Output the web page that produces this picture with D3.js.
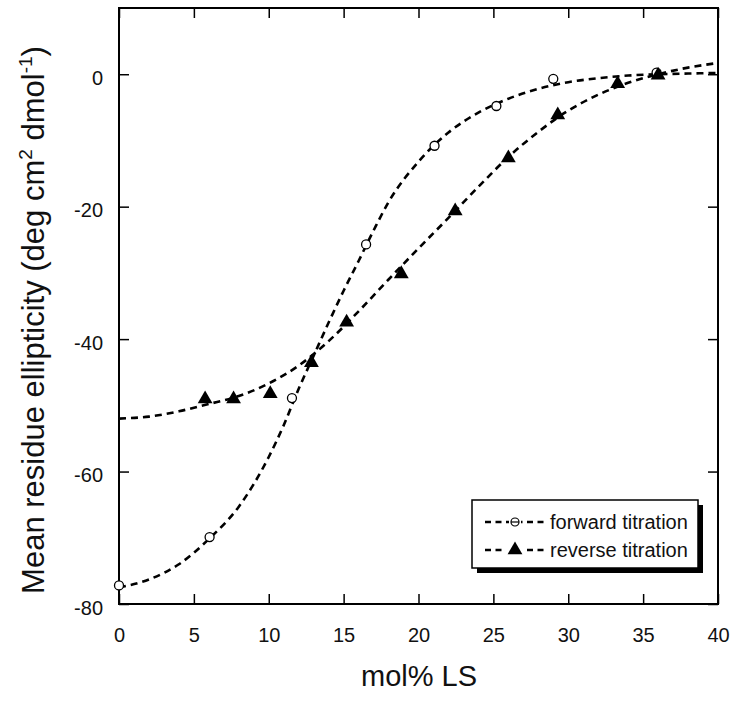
<!DOCTYPE html>
<html>
<head>
<meta charset="utf-8">
<script src="https://cdn.jsdelivr.net/npm/d3@7"></script>
<style>
body { margin: 0; background: #fff; }
svg { display: block; font-family: "Liberation Sans", Arial, sans-serif; }
</style>
</head>
<body>
<svg id="chart" width="732" height="701"></svg>
<script>
// Data
const forwardX = [0, 6.05, 11.55, 16.5, 21.07, 25.2, 29.0, 35.9];
const forwardY = [-77.2, -69.9, -48.9, -25.7, -10.8, -4.8, -0.7, 0.25];
const reverseX = [5.75, 7.65, 10.1, 12.85, 15.2, 18.85, 22.45, 26.0, 29.3, 33.3, 36.0];
const reverseY = [-48.9, -48.9, -48.1, -43.4, -37.3, -30.0, -20.5, -12.5, -6.0, -1.3, 0.0];
// fitted curves
const forwardFitX = [0, 2, 4, 6, 8, 10, 11, 12, 13, 14, 15, 16, 17, 18, 20, 22, 24, 26, 28, 30, 32, 34, 36, 38, 40];
const forwardFitY = [-77.5, -76.3, -74, -70.2, -65.3, -57.8, -53, -47.5, -42.5, -37.5, -32.7, -28.2, -23.6, -19.3, -13.2, -8.8, -5.8, -3.7, -2.2, -1.2, -0.6, -0.2, 0, 0.1, 0.2];
const reverseFitX = [0, 2, 4, 6, 8, 10, 12, 14, 16, 18, 20, 22, 24, 26, 28, 30, 32, 34, 36, 38, 40];
const reverseFitY = [-52, -51.7, -50.9, -49.8, -48.6, -46.7, -44, -40.3, -35.8, -31, -26.3, -21.7, -17, -12.5, -8.7, -5.5, -3.1, -1.3, 0, 1, 1.7];
const xTicks = [0, 5, 10, 15, 20, 25, 30, 35, 40];
const yTicks = [-80, -60, -40, -20, 0];
const legendLabels = ["forward titration", "reverse titration"];

const svg = d3.select("#chart");
const pL = 119, pR = 718, pT = 8, pB = 604;
const x = d3.scaleLinear().domain([0, 40]).range([pL, pR]);
const y = d3.scaleLinear().domain([-80, 10]).range([pB, pT]);
const fmt = d => String(d);

// clip
svg.append("clipPath").attr("id", "clip").append("rect")
  .attr("x", pL).attr("y", pT).attr("width", pR - pL).attr("height", pB - pT);

// axes
const tickLen = 10;
const gx = svg.append("g").attr("transform", `translate(0,${pB})`)
  .call(d3.axisBottom(x).tickValues(xTicks).tickFormat(fmt).tickSizeInner(-tickLen).tickSizeOuter(0).tickPadding(24));
const gxt = svg.append("g").attr("transform", `translate(0,${pT})`)
  .call(d3.axisTop(x).tickValues(xTicks).tickSizeInner(-tickLen).tickSizeOuter(0).tickFormat(""));
const gy = svg.append("g").attr("transform", `translate(${pL},0)`)
  .call(d3.axisLeft(y).tickValues(yTicks).tickFormat(fmt).tickSizeInner(-tickLen).tickSizeOuter(0).tickPadding(16));
const gyr = svg.append("g").attr("transform", `translate(${pR},0)`)
  .call(d3.axisRight(y).tickValues(yTicks).tickSizeInner(-tickLen).tickSizeOuter(0).tickFormat(""));
[gx, gxt, gy, gyr].forEach(g => {
  g.select(".domain").remove();
  g.selectAll(".tick line").attr("stroke", "#000").attr("stroke-width", 1.5);
  g.selectAll(".tick text").attr("font-size", 20).attr("fill", "#111")
    .attr("font-family", "'Liberation Sans', Arial, sans-serif");
});
gy.selectAll(".tick text").attr("dy", "0.5em");

// frame
svg.append("rect").attr("x", pL).attr("y", pT).attr("width", pR - pL).attr("height", pB - pT)
  .attr("fill", "none").attr("stroke", "#000").attr("stroke-width", 2);

// curves
const line = d3.line().x(d => x(d[0])).y(d => y(d[1])).curve(d3.curveMonotoneX);
const plot = svg.append("g").attr("clip-path", "url(#clip)");
plot.append("path").datum(d3.zip(forwardFitX, forwardFitY)).attr("d", line)
  .attr("fill", "none").attr("stroke", "#000").attr("stroke-width", 2.6).attr("stroke-dasharray", "7,5");
plot.append("path").datum(d3.zip(reverseFitX, reverseFitY)).attr("d", line)
  .attr("fill", "none").attr("stroke", "#000").attr("stroke-width", 2.6).attr("stroke-dasharray", "7,5");

// markers
const tri = d3.symbol().type(d3.symbolTriangle).size(95);
svg.append("g").selectAll("circle").data(d3.zip(forwardX, forwardY)).join("circle")
  .attr("cx", d => x(d[0])).attr("cy", d => y(d[1])).attr("r", 4.5)
  .attr("fill", "#fff").attr("stroke", "#000").attr("stroke-width", 1.3);
svg.append("g").selectAll("path").data(d3.zip(reverseX, reverseY)).join("path")
  .attr("d", tri).attr("transform", d => `translate(${x(d[0])},${y(d[1]) + 1})`).attr("fill", "#000");

// legend
const lg = svg.append("g");
lg.append("rect").attr("x", 477).attr("y", 505).attr("width", 226).attr("height", 68).attr("fill", "#000");
lg.append("rect").attr("x", 472).attr("y", 500).attr("width", 226).attr("height", 68)
  .attr("fill", "#fff").attr("stroke", "#000").attr("stroke-width", 1.5);
legendLabels.forEach((lab, i) => {
  const ly = 522 + i * 28;
  lg.append("line").attr("x1", 485).attr("x2", 546).attr("y1", ly).attr("y2", ly)
    .attr("stroke", "#000").attr("stroke-width", 2.4).attr("stroke-dasharray", "6,4.5");
  if (i === 0) {
    lg.append("rect").attr("x", 509).attr("y", ly - 5).attr("width", 12).attr("height", 10).attr("fill", "#fff");
    lg.append("circle").attr("cx", 515).attr("cy", ly).attr("r", 4).attr("fill", "#fff")
      .attr("stroke", "#000").attr("stroke-width", 1.2);
    lg.append("line").attr("x1", 511).attr("x2", 519).attr("y1", ly).attr("y2", ly).attr("stroke", "#000").attr("stroke-width", 1.2);
  } else {
    lg.append("rect").attr("x", 506).attr("y", ly - 5).attr("width", 18).attr("height", 10).attr("fill", "#fff");
    lg.append("path").attr("d", tri).attr("transform", `translate(515,${ly})`).attr("fill", "#000");
  }
  lg.append("text").attr("x", 550).attr("y", ly + 7).attr("font-size", 20).attr("fill", "#111").text(lab);
});

// axis titles
svg.append("text").attr("x", 419).attr("y", 686).attr("text-anchor", "middle")
  .attr("font-size", 29).attr("fill", "#111").text("mol% LS");
const yt = svg.append("text").attr("transform", `translate(44,${(pT + pB) / 2 + 14}) rotate(-90)`)
  .attr("text-anchor", "middle").attr("font-size", 31).attr("fill", "#111");
yt.append("tspan").text("Mean residue ellipticity (deg cm");
yt.append("tspan").attr("dy", -12).attr("font-size", 19).text("2");
yt.append("tspan").attr("dy", 12).text(" dmol");
yt.append("tspan").attr("dy", -12).attr("font-size", 19).text("-1");
yt.append("tspan").attr("dy", 12).text(")");
</script>
</body>
</html>
